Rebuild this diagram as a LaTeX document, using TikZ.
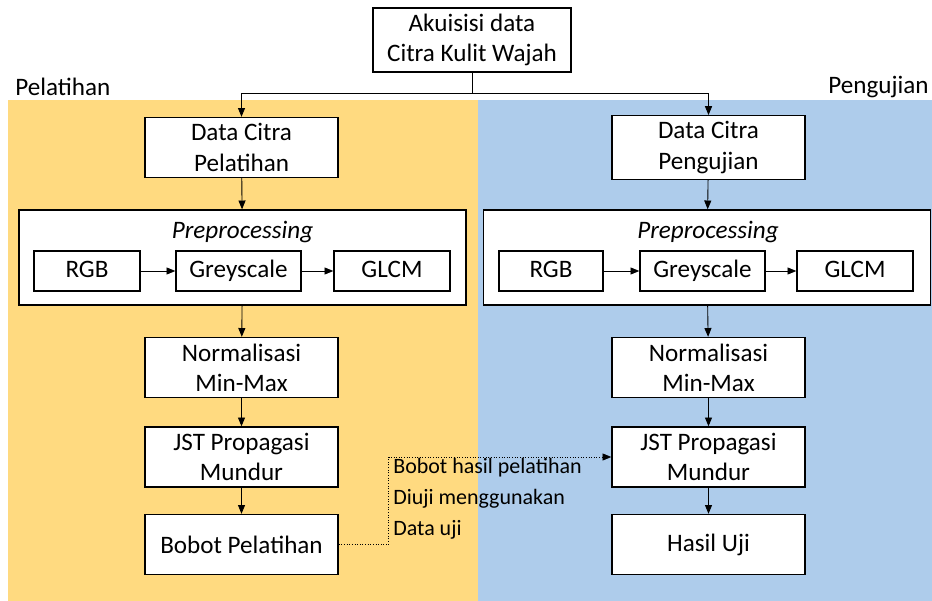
\documentclass[tikz,border=0pt]{standalone}
\usepackage{fontspec}
\setmainfont{Carlito}
\usepackage{tikz}
\usetikzlibrary{positioning, arrows.meta}
\definecolor{PanelKuning}{RGB}{255,218,128}
\definecolor{PanelBiru}{RGB}{174,204,235}

\begin{document}
\begin{tikzpicture}[x=0.02cm, y=-0.02cm,
          font=\fontsize{14.3}{17.2}\selectfont,
          blok/.style={rectangle, draw=black, fill=white, line width=0.8pt,
                       minimum width=3.86cm, minimum height=1.2cm, align=center},
          kecil/.style={rectangle, draw=black, fill=white, line width=0.8pt,
                        minimum height=0.8cm, text height=10pt, text depth=3pt, align=center},
          prep/.style={rectangle, draw=black, fill=white, line width=0.8pt,
                       minimum width=8.94cm, minimum height=1.9cm},
          panah/.style={-{Triangle[length=5pt, width=4pt]}, draw=black, line width=0.5pt},
          garis/.style={draw=black, line width=0.5pt}
        ]
        \useasboundingbox (0,0) rectangle (932,601);

        % Latar
        \fill[PanelKuning] (8,100) rectangle (478,601);
        \fill[PanelBiru] (478,100) rectangle (932,601);
        \node[anchor=west, inner sep=0pt] (lbllatih) at (15,87) {Pelatihan};
        \node[anchor=east, inner sep=0pt] (lbluji) at (929,87) {Pengujian};

        % Akuisisi
        \node[blok, minimum width=3.96cm] (akuisisi) at (472,40) {Akuisisi data\\Citra Kulit Wajah};
        \coordinate (cabang) at (472,93);

        % Pelatihan
        \node[blok] (dcl) at (241.5,147.5) {Data Citra\\Pelatihan};
        \node[prep] (prepl) at (242.5,257.5) {};
        \node[font=\fontsize{14.3}{17.2}\selectfont\itshape] (judull) at (242.5,232) {Preprocessing};
        \node[kecil, minimum width=2.12cm] (rgbl) at (87,271) {RGB};
        \node[kecil, minimum width=2.5cm] (greyl) at (238.5,271) {Greyscale};
        \node[kecil, minimum width=2.32cm] (glcml) at (392,271) {GLCM};
        \node[blok] (norml) at (241.5,367.5) {Normalisasi\\Min-Max};
        \node[blok] (jstl) at (241.5,457) {JST Propagasi\\Mundur};
        \node[blok] (bobot) at (241.5,544.5) {Bobot Pelatihan};

        % Pengujian
        \node[blok] (dcu) at (708.5,147.5) {Data Citra\\Pengujian};
        \node[prep] (prepu) at (707,257.5) {};
        \node[font=\fontsize{14.3}{17.2}\selectfont\itshape] (juduli) at (708,232) {Preprocessing};
        \node[kecil, minimum width=2.08cm] (rgbu) at (551,271) {RGB};
        \node[kecil, minimum width=2.5cm] (greyu) at (702.5,271) {Greyscale};
        \node[kecil, minimum width=2.32cm] (glcmu) at (855,271) {GLCM};
        \node[blok] (normu) at (708.5,367.5) {Normalisasi\\Min-Max};
        \node[blok] (jstu) at (708.5,457) {JST Propagasi\\Mundur};
        \node[blok] (hasil) at (708.5,544.5) {Hasil Uji};

        % Alur
        \draw[garis] (akuisisi) -- (cabang);
        \draw[panah] (cabang) -| (dcl);
        \draw[panah] (cabang) -| (dcu);
        \draw[panah] (dcl) -- (prepl);
        \draw[panah] (rgbl) -- (greyl);
        \draw[panah] (greyl) -- (glcml);
        \draw[panah] (prepl) -- (norml);
        \draw[panah] (norml) -- (jstl);
        \draw[panah] (jstl) -- (bobot);
        \draw[panah] (dcu) -- (prepu);
        \draw[panah] (rgbu) -- (greyu);
        \draw[panah] (greyu) -- (glcmu);
        \draw[panah] (prepu) -- (normu);
        \draw[panah] (normu) -- (jstu);
        \draw[panah] (jstu) -- (hasil);

        % Bobot ke pengujian
        \draw[panah, densely dotted] (bobot.east) -- ++(50,0) |- (jstu.west);
        \node[anchor=north west, align=left, inner sep=0pt,
              font=\fontsize{12.5}{17.5}\selectfont] (catatan) at (393,458)
              {Bobot hasil pelatihan\\Diuji menggunakan\\Data uji};
      \end{tikzpicture}
\end{document}
